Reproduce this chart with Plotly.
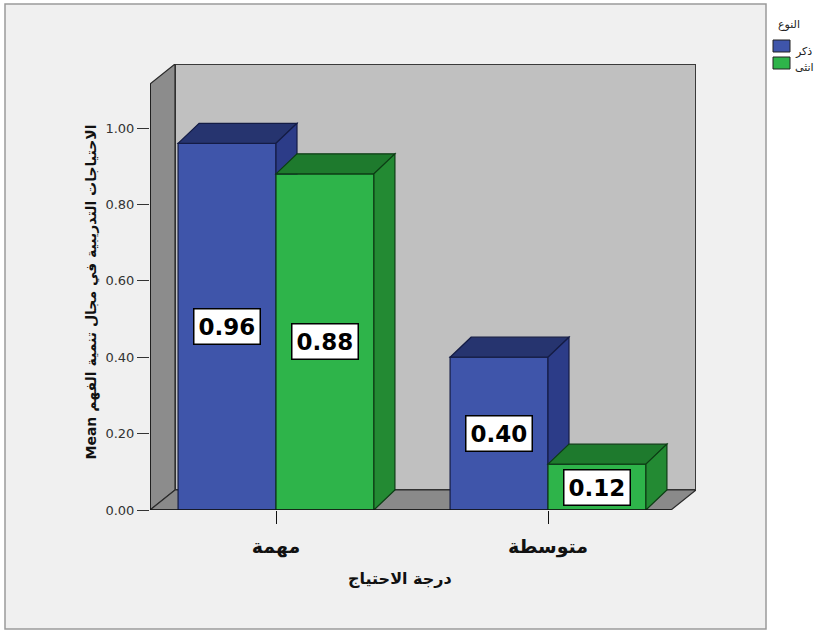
import plotly.graph_objects as go

# ---------------- data ----------------
categories = ["مهمة", "متوسطة"]
series_names = ["ذكر", "انثى"]
male_means = [0.96, 0.40]
female_means = [0.88, 0.12]
y_tick_values = [0.0, 0.2, 0.4, 0.6, 0.8, 1.0]
y_title = "Mean الاحتياجات التدريبية في مجال تنمية الفهم"
x_title = "درجة الاحتياج"
legend_title = "النوع"

# ---------------- geometry / style ----------------
W, H = 817, 631
L, R, T, B = 150, 121, 64, 121
PW, PH = W - L - R, H - T - B
XU, YU = 272.0, 382.0          # pixels per data unit
X0PX = 276                       # pixel position of first category
xmin = (L - X0PX) / XU
xmax = (W - R - X0PX) / XU
ymax = PH / YU
BAR_W = 0.36
bdx, bdy = 21 / XU, 20 / YU      # bar depth
wdx, wdy = 25 / XU, 20 / YU      # wall depth

FONT = "DejaVu Sans, Arial, sans-serif"
colors = {
    "front": ["#3f55aa", "#2eb44a"],
    "top": ["#26346f", "#1e7a2d"],
    "side": ["#2c3c88", "#238a33"],
    "edge": ["#141c45", "#0c3d14"],
}


def pxx(xp):
    return (xp - L) / PW


def pxy(yp):
    return (H - B - yp) / PH


fig = go.Figure()
series = [male_means, female_means]
for s, vals in enumerate(series):
    fig.add_trace(go.Bar(
        x=list(range(len(categories))), y=vals, name=series_names[s],
        marker=dict(color=colors["front"][s],
                    line=dict(color=colors["edge"][s], width=1.2)),
        showlegend=False, hoverinfo="skip",
    ))

shapes = []
# outer frame
shapes.append(dict(type="rect", xref="paper", yref="paper", layer="below",
                   x0=pxx(5), x1=pxx(766), y0=pxy(629), y1=pxy(4),
                   fillcolor="#f0f0f0", line=dict(color="#9a9a9a", width=1.5)))
# back wall
shapes.append(dict(type="rect", xref="x", yref="y", layer="below",
                   x0=xmin + wdx, x1=xmax, y0=wdy, y1=ymax,
                   fillcolor="#c0c0c0", line=dict(color="#3a3a3a", width=2)))
# left wall
shapes.append(dict(type="path", xref="x", yref="y", layer="below",
                   path=f"M{xmin},0 L{xmin},{ymax - wdy} L{xmin + wdx},{ymax} L{xmin + wdx},{wdy} Z",
                   fillcolor="#8c8c8c", line=dict(color="#2a2a2a", width=1.2)))
# floor
shapes.append(dict(type="path", xref="x", yref="y", layer="below",
                   path=f"M{xmin},0 L{xmax - wdx},0 L{xmax},{wdy} L{xmin + wdx},{wdy} Z",
                   fillcolor="#8a8a8a", line=dict(color="#2a2a2a", width=1.2)))

# 3D faces of bars
for i in range(len(categories)):
    lefts = [i - BAR_W, i]
    for s, vals in enumerate(series):
        v = vals[i]
        xl, xr = lefts[s], lefts[s] + BAR_W
        # top face
        shapes.append(dict(type="path", xref="x", yref="y", layer="above",
                           path=f"M{xl},{v} L{xr},{v} L{xr + bdx},{v + bdy} L{xl + bdx},{v + bdy} Z",
                           fillcolor=colors["top"][s], line=dict(color=colors["edge"][s], width=1.2)))
        # side face (clipped by the neighbouring bar in front)
        low = 0.0
        if s + 1 < len(series):
            low = series[s + 1][i]
        if v > low:
            if low == 0.0:
                path = f"M{xr},0 L{xr},{v} L{xr + bdx},{v + bdy} L{xr + bdx},{bdy} Z"
            else:
                path = f"M{xr},{low} L{xr},{v} L{xr + bdx},{v + bdy} L{xr + bdx},{low} Z"
            shapes.append(dict(type="path", xref="x", yref="y", layer="above",
                               path=path, fillcolor=colors["side"][s],
                               line=dict(color=colors["edge"][s], width=1.2)))

# y axis line and floor front edge
shapes.append(dict(type="line", xref="x", yref="y", layer="above",
                   x0=xmin, x1=xmin, y0=0, y1=ymax - wdy,
                   line=dict(color="#111111", width=1.5)))
shapes.append(dict(type="line", xref="x", yref="y", layer="above",
                   x0=xmin, x1=xmax - wdx, y0=0, y1=0,
                   line=dict(color="#111111", width=1.5)))

# legend swatches
shapes.append(dict(type="rect", xref="paper", yref="paper",
                   x0=pxx(773), x1=pxx(790), y0=pxy(52), y1=pxy(40),
                   fillcolor=colors["front"][0], line=dict(color="#222", width=1)))
shapes.append(dict(type="rect", xref="paper", yref="paper",
                   x0=pxx(773), x1=pxx(790), y0=pxy(69), y1=pxy(57),
                   fillcolor=colors["front"][1], line=dict(color="#222", width=1)))

annotations = []
for i in range(len(categories)):
    lefts = [i - BAR_W, i]
    for s, vals in enumerate(series):
        v = vals[i]
        annotations.append(dict(
            x=lefts[s] + BAR_W / 2, y=v / 2, xref="x", yref="y",
            text=f"<b>{v:.2f}</b>", showarrow=False,
            font=dict(family="DejaVu Sans", size=23, color="#000"),
            bgcolor="#ffffff", bordercolor="#000000", borderwidth=1.5, borderpad=4,
        ))

annotations.append(dict(x=pxx(80), y=pxy(292), xref="paper", yref="paper",
                        text=f"<b>{y_title}</b>", textangle=-90, showarrow=False,
                        font=dict(family=FONT, size=14, color="#111")))
annotations.append(dict(x=pxx(400), y=pxy(590), xref="paper", yref="paper",
                        text=f"<b>{x_title}</b>", showarrow=False,
                        font=dict(family=FONT, size=16, color="#111")))
annotations.append(dict(x=pxx(776), y=pxy(16), xref="paper", yref="paper",
                        xanchor="left", text=legend_title, showarrow=False,
                        font=dict(family=FONT, size=11, color="#222")))
for s, name in enumerate(series_names):
    annotations.append(dict(x=pxx(793), y=pxy(43 + 16 * s), xref="paper", yref="paper",
                            xanchor="left", text=name, showarrow=False,
                            font=dict(family=FONT, size=11, color="#222")))

fig.update_layout(
    width=W, height=H,
    margin=dict(l=L, r=R, t=T, b=B, pad=0),
    paper_bgcolor="#ffffff", plot_bgcolor="rgba(0,0,0,0)",
    barmode="group", bargap=0.28, bargroupgap=0,
    showlegend=False,
    shapes=shapes, annotations=annotations,
    xaxis=dict(range=[xmin, xmax], tickvals=list(range(len(categories))),
               ticktext=[f"<b>{c}</b>" for c in categories],
               showgrid=False, zeroline=False, showline=False,
               ticks="outside", ticklen=13, tickcolor="#111", tickwidth=1.2,
               ticklabelstandoff=6,
               tickfont=dict(family=FONT, size=19, color="#111"), fixedrange=True),
    yaxis=dict(range=[0, ymax], tickvals=y_tick_values, tickformat=".2f",
               showgrid=False, zeroline=False, showline=False,
               ticks="outside", ticklen=12, tickcolor="#333", tickwidth=1.2,
               tickfont=dict(family=FONT, size=13, color="#333"), fixedrange=True),
)

fig.write_html("out.html")
